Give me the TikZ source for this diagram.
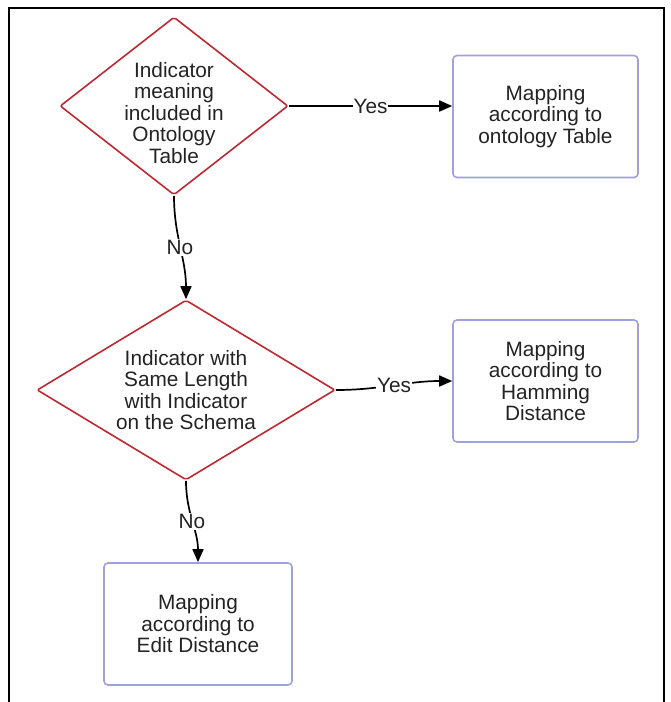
\documentclass[tikz,border=0pt]{standalone}
\usepackage{fontspec}
\setmainfont{Liberation Sans}
\usetikzlibrary{shapes,arrows,arrows.meta}

\definecolor{decred}{RGB}{190,40,50}
\definecolor{boxblue}{RGB}{160,160,225}
\definecolor{textgray}{RGB}{35,35,35}

\begin{document}
\begin{tikzpicture}[x=1pt,y=-1pt,font=\fontsize{20.8}{21.5}\selectfont]
    % mapping an indicator onto the schema
    \tikzstyle{decision} = [draw=decred, diamond, line width=1.6pt, rounded corners=2pt, inner sep=0pt];
    \tikzstyle{block} = [draw=boxblue, rectangle, line width=1.6pt, rounded corners=4pt, align=center, text=textgray, minimum width=185pt, minimum height=122pt];
    \tikzstyle{dtext} = [align=center, text=textgray];
    \tikzstyle{answer} = [fill=white, inner sep=1pt, text=textgray];
    \tikzstyle{line} = [draw, line width=1.7pt, -{Triangle[length=13pt,width=11pt]}];

    \useasboundingbox (0,0) rectangle (670,702);
    \draw[line width=2.4pt] (9,702) -- (9,8) -- (664,8) -- (664,702);

    \node[decision, minimum width=228pt, minimum height=178pt,
          label={[dtext,yshift=-7pt]center:Indicator\\meaning\\included in\\Ontology\\Table}] (ontology_check) at (174,106) {};
    \node[decision, minimum width=298pt, minimum height=180pt,
          label={[dtext]center:Indicator with\\Same Length\\with Indicator\\on the Schema}] (length_check) at (186,390) {};

    \node[block] (ontology_map) at (545.5,116.5) {Mapping\\according to\\ontology Table};
    \node[block] (hamming_map) at (545.5,381) {Mapping\\according to\\Hamming\\Distance};
    \node[block, minimum width=188pt] (edit_map) at (198,624) {Mapping\\according to\\Edit Distance};

    \draw[line] (ontology_check.east) -- node[answer] {Yes} (ontology_check.east -| ontology_map.west);
    \draw[line] (ontology_check.south) to[out=-90,in=90] node[answer] {No} (length_check.north);
    \draw[line] (length_check.east) to[out=0,in=180] node[answer] {Yes} (hamming_map.west);
    \draw[line] (length_check.south) to[out=-90,in=90] node[answer] {No} (edit_map.north);

\end{tikzpicture}
\end{document}
